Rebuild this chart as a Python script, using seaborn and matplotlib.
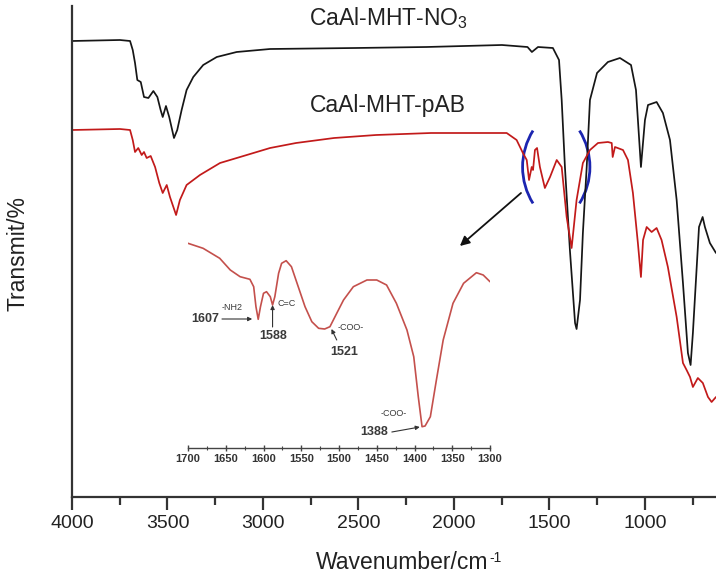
import numpy as np
import pandas as pd
import matplotlib
matplotlib.use("Agg")
import matplotlib.pyplot as plt
import seaborn as sns
from matplotlib.patches import Arc
from matplotlib.transforms import ScaledTranslation
from matplotlib.ticker import MultipleLocator

# ---------------- data ----------------
no3_wn = [4000, 3749, 3696, 3682, 3670, 3658, 3640, 3623, 3600, 3574,
          3553, 3536, 3525, 3508, 3491, 3466, 3449, 3426, 3400, 3365,
          3313, 3242, 3138, 2963, 2518, 2144, 1749, 1615, 1592,
          1560, 1482, 1450, 1436, 1419, 1393, 1366, 1358, 1340, 1325,
          1305, 1288, 1251, 1194, 1131, 1073, 1047, 1021, 1000, 984,
          939, 906, 869, 834, 801, 775, 761, 749, 729, 717,
          698, 686, 660, 628]
no3_t = [456, 457, 456, 447, 434, 417, 415, 400, 399, 406,
         400, 387, 380, 391, 380, 359, 367, 387, 407, 420,
         432, 440, 445, 448, 449, 450, 452, 450, 445,
         450, 449, 437, 397, 330, 247, 174, 168, 197, 264,
         330, 397, 424, 435, 439, 432, 407, 330, 377, 392,
         395, 384, 357, 297, 214, 144, 132, 164, 230, 270,
         280, 270, 254, 244]

pab_wn = [4000, 3749, 3696, 3682, 3670, 3653, 3635, 3623, 3609, 3588,
          3565, 3543, 3525, 3504, 3487, 3455, 3435, 3400, 3330, 3225,
          3085, 2963, 2827, 2628, 2408, 2120,
          1859, 1724, 1672, 1639, 1619, 1607, 1593, 1586, 1576, 1565,
          1550, 1524, 1497, 1462, 1436, 1410, 1384, 1358, 1325, 1288,
          1246, 1194, 1174, 1169, 1157, 1115, 1089, 1063, 1037, 1021,
          1010, 991, 965, 939, 913, 880, 834, 801, 782, 764,
          749, 723, 697, 670, 651, 628]
pab_t = [367, 368, 367, 357, 345, 349, 342, 345, 339, 341,
         330, 314, 304, 312, 300, 282, 297, 312, 322, 334,
         342, 349, 354, 359, 362, 364,
         364, 364, 357, 344, 337, 317, 330, 327, 347, 349,
         330, 309, 320, 337, 330, 280, 249, 297, 334, 347,
         354, 355, 354, 340, 350, 347, 337, 304, 254, 220,
         257, 270, 265, 269, 257, 230, 180, 134, 127, 120,
         110, 119, 114, 100, 95, 100]

inset_wn = [1700, 1680, 1658, 1644, 1631, 1618, 1613, 1610, 1607, 1604,
            1600, 1596, 1591, 1588, 1585, 1580, 1576, 1570, 1563, 1554,
            1545, 1536, 1527, 1519, 1512, 1503, 1494, 1481, 1463, 1450,
            1437, 1424, 1410, 1401, 1395, 1390, 1386, 1379, 1371, 1362,
            1349, 1335, 1318, 1309, 1300]
inset_t = [204.7, 199.7, 189.7, 178, 171.3, 168.7, 161.3, 141.3, 128.7, 141.3,
           154.7, 156.3, 151.3, 143, 151.3, 174.7, 184.7, 187.3, 181.3, 161.3,
           141.3, 126.3, 119.7, 119, 121.3, 134.7, 148, 161.3, 168, 168,
           163, 144.7, 118, 91.3, 51.3, 21.3, 22, 31.3, 68, 108,
           144.7, 164.7, 175.3, 173, 166.3]

main_ticks = [4000, 3500, 3000, 2500, 2000, 1500, 1000]
inset_ticks = [1700, 1650, 1600, 1550, 1500, 1450, 1400, 1350, 1300]

series_names = ["CaAl-MHT-NO$_3$", "CaAl-MHT-pAB"]

# ---------------- style ----------------
sns.set_theme(style="white")
plt.rcParams["font.family"] = ["Liberation Sans", "DejaVu Sans"]
plt.rcParams["mathtext.fontset"] = "custom"
plt.rcParams["mathtext.rm"] = "Liberation Sans"
plt.rcParams["mathtext.it"] = "Liberation Sans"
plt.rcParams["mathtext.bf"] = "Liberation Sans:bold"

fig = plt.figure(figsize=(7.16, 5.77), dpi=100)
ax = fig.add_axes([72 / 716, 80 / 577, 644 / 716, 491 / 577])

df_no3 = pd.DataFrame({"wn": no3_wn, "T": no3_t})
df_pab = pd.DataFrame({"wn": pab_wn, "T": pab_t})
sns.lineplot(data=df_no3, x="wn", y="T", ax=ax, color="#161616",
             lw=1.25, estimator=None)
sns.lineplot(data=df_pab, x="wn", y="T", ax=ax, color="#c21a1a",
             lw=1.25, estimator=None)

ax.set_xlim(4000, 628)
ax.set_ylim(0, 491)
ax.set_xticks(main_ticks)
ax.xaxis.set_minor_locator(MultipleLocator(250))
ax.set_yticks([])
for s in ["top", "right"]:
    ax.spines[s].set_visible(False)
for s in ["left", "bottom"]:
    ax.spines[s].set_color("#333333")
    ax.spines[s].set_linewidth(1.6)
ax.tick_params(axis="x", which="major", direction="out", length=9, width=1.6,
               color="#333333", labelsize=14, labelcolor="#222222", pad=4,
               bottom=True)
ax.tick_params(axis="x", which="minor", direction="out", length=6, width=1.6,
               color="#333333", bottom=True)

ax.set_xlabel("Wavenumber/cm", fontsize=16.5, color="#222222")
ax.xaxis.label.set_va("baseline")
ax.xaxis.set_label_coords(0.512, -0.1466)
ax.annotate("-1", xy=(1, 1), xycoords=ax.xaxis.label, xytext=(1, 0),
            textcoords="offset points", ha="left", va="top", fontsize=10,
            color="#222222", annotation_clip=False)
ax.set_ylabel("Transmit/%", fontsize=16.5, color="#222222")
ax.yaxis.label.set_va("center")
ax.yaxis.set_label_coords(-0.0839, 0.495)

ax.text(0.4922, 0.9613, series_names[0], transform=ax.transAxes,
        ha="center", va="baseline", fontsize=16.5, color="#222222")
ax.text(0.4899, 0.7847, series_names[1], transform=ax.transAxes,
        ha="center", va="baseline", fontsize=16.5, color="#222222")

# blue brackets around the zoomed region
r_in = 0.687
for cx, th1, th2 in [(1281, 148, 212), (1648, -32, 32)]:
    tr = fig.dpi_scale_trans + ScaledTranslation(cx, 330, ax.transData)
    ax.add_patch(Arc((0, 0), 2 * r_in, 2 * r_in, theta1=th1, theta2=th2,
                     transform=tr, color="#1c25b0", lw=2.0, clip_on=False))

# arrow to inset
ax.annotate("", xy=(1969, 251), xytext=(1649, 304),
            arrowprops=dict(arrowstyle="-|>", color="#111111", lw=1.3,
                            mutation_scale=14, shrinkA=0, shrinkB=0))

# ---------------- inset ----------------
axi = fig.add_axes([188 / 716, 129 / 577, 302 / 716, 213 / 577])
axi.set_facecolor("none")
df_in = pd.DataFrame({"wn": inset_wn, "T": inset_t})
sns.lineplot(data=df_in, x="wn", y="T", ax=axi, color="#c4504c",
             lw=1.2, estimator=None)
axi.set_xlim(1700, 1300)
axi.set_ylim(0, 213)
axi.set_xticks(inset_ticks)
axi.xaxis.set_minor_locator(MultipleLocator(25))
axi.set_yticks([])
axi.set_xlabel("")
axi.set_ylabel("")
for s in ["top", "right", "left"]:
    axi.spines[s].set_visible(False)
axi.spines["bottom"].set_color("#444444")
axi.spines["bottom"].set_linewidth(1.0)
axi.tick_params(axis="x", which="major", direction="inout", length=5,
                width=1.0, color="#444444", labelsize=8, labelcolor="#333333",
                pad=2, bottom=True)
axi.tick_params(axis="x", which="minor", direction="inout", length=3,
                width=0.8, color="#444444", bottom=True)
for lab in axi.get_xticklabels():
    lab.set_fontweight("bold")

txt_kw = dict(color="#3a3a3a", ha="center", va="center")
axi.text(1642, 141, "-NH2", fontsize=6.5, **txt_kw)
axi.text(1677, 129, "1607", fontsize=9, fontweight="bold", **txt_kw)
axi.text(1569, 145, "C=C", fontsize=6.5, **txt_kw)
axi.text(1587, 112, "1588", fontsize=9, fontweight="bold", **txt_kw)
axi.text(1485, 120, "-COO-", fontsize=6.5, **txt_kw)
axi.text(1493, 96, "1521", fontsize=9, fontweight="bold", **txt_kw)
axi.text(1427, 35, "-COO-", fontsize=6.5, **txt_kw)
axi.text(1454, 16, "1388", fontsize=9, fontweight="bold", **txt_kw)

arr = dict(arrowstyle="-|>", color="#333333", lw=0.8, mutation_scale=6,
           shrinkA=0, shrinkB=0)
axi.annotate("", xy=(1615, 129), xytext=(1655, 129), arrowprops=arr)
axi.annotate("", xy=(1588, 143), xytext=(1588, 121), arrowprops=arr)
axi.annotate("", xy=(1510, 119), xytext=(1503, 108), arrowprops=arr)
axi.annotate("", xy=(1393, 21), xytext=(1430, 16), arrowprops=arr)

fig.savefig("out.png", dpi=100)
